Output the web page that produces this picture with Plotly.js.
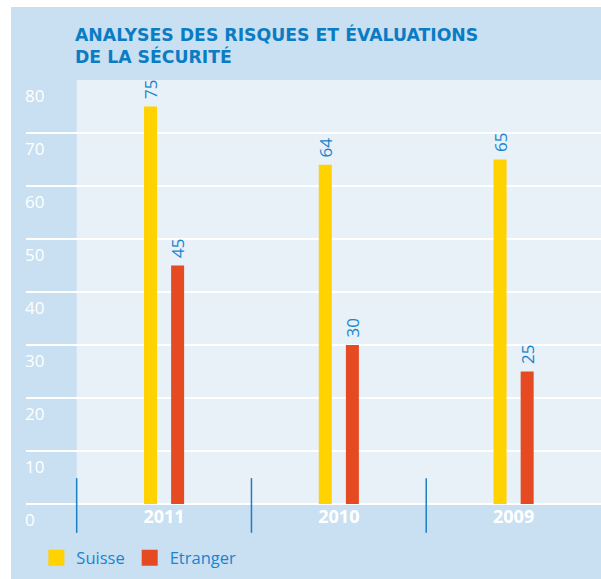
<!DOCTYPE html>
<html>
<head>
<meta charset="utf-8">
<script src="https://cdn.plot.ly/plotly-3.0.1.min.js"></script>
<style>
  body { margin: 0; background: #ffffff; }
  #chart { position: absolute; left: 11px; top: 7px; width: 590px; height: 572px; }
</style>
</head>
<body>
<div id="chart"></div>
<script>
// data
const years = ['2011', '2010', '2009'];
const suisse = [75, 64, 65];
const etranger = [45, 30, 25];
const seriesNames = ['Suisse', 'Etranger'];
const yTicks = [0, 10, 20, 30, 40, 50, 60, 70, 80];

const YELLOW = '#ffd200';
const RED = '#e64a23';
const BLUE_TXT = '#1a85cc';
const BG = '#c9dff2';
const BG_LIGHT = '#e8f0f8';

function barTrace(vals, color) {
    return {
        type: 'bar',
        x: years,
        y: vals,
        marker: { color: color },
        texttemplate: '\u00a0%{y}', // nbsp gives a bit of room above the bar
        textposition: 'outside',
        textangle: -90,
        constraintext: 'none',
        cliponaxis: false,
        textfont: { family: 'Open Sans', size: 17, color: BLUE_TXT },
        showlegend: false,
        hoverinfo: 'skip'
    };
}

// legend only traces (bigger squares than the bar legend symbol)
function legendTrace(name, color) {
    return {
        type: 'scatter',
        mode: 'markers',
        x: [null],
        y: [null],
        name: name,
        marker: { symbol: 'square', size: 16, color: color },
        showlegend: true
    };
}

const data = [
    barTrace(suisse, YELLOW),
    barTrace(etranger, RED),
    legendTrace(seriesNames[0], YELLOW),
    legendTrace(seriesNames[1], RED)
];

// blue separators between the years (yref paper so they are not clipped below 0)
const dividers = [-0.5, 0.5, 1.5].map(function (v) {
    return {
        type: 'line', xref: 'x', yref: 'paper',
        x0: v, x1: v,
        y0: -0.068, y1: 0.061,
        line: { color: '#1a7fc4', width: 1.5 }
    };
});

const layout = {
    width: 590,
    height: 572,
    margin: { l: 15, r: 0, t: 73, b: 75 },
    paper_bgcolor: BG,
    plot_bgcolor: BG,
    font: { family: 'Open Sans', color: '#ffffff' },
    title: {
        text: 'ANALYSES DES RISQUES ET ÉVALUATIONS<br>DE LA SÉCURITÉ',
        xref: 'container', yref: 'container',
        x: 0.1085, xanchor: 'left',
        y: 0.941, yanchor: 'top',
        font: { family: 'DejaVu Sans', size: 17.3, weight: 'bold', color: '#0a7cc4' }
    },
    barmode: 'group',
    bargap: 0.69,
    bargroupgap: 0.52,
    xaxis: {
        type: 'category',
        range: [-0.79, 2.5],
        showgrid: false,
        zeroline: false,
        ticks: '',
        tickfont: { family: 'Open Sans', size: 18, weight: 'bold', color: '#ffffff' },
        fixedrange: true
    },
    yaxis: {
        range: [0, 80],
        tickvals: yTicks,
        ticks: '',
        showgrid: true,
        gridcolor: '#ffffff',
        gridwidth: 2,
        zeroline: true,
        zerolinecolor: '#ffffff',
        zerolinewidth: 2,
        ticklabelposition: 'inside bottom',
        ticklabeloverflow: 'allow',
        ticklabelshift: 4,
        ticklabelstandoff: -4,
        tickfont: { family: 'Open Sans', size: 17, color: '#ffffff' },
        fixedrange: true
    },
    shapes: [{
        type: 'rect', layer: 'below',
        xref: 'x', yref: 'y',
        x0: -0.5, x1: 2.5, y0: 0, y1: 80,
        fillcolor: BG_LIGHT, line: { width: 0 }
    }].concat(dividers),
    legend: {
        orientation: 'h',
        xref: 'container', yref: 'container',
        x: 0.043, xanchor: 'left',
        y: 0.0367, yanchor: 'middle',
        bgcolor: 'rgba(0,0,0,0)',
        font: { family: 'Open Sans', size: 16.5, color: BLUE_TXT }
    }
};

Plotly.newPlot('chart', data, layout, { displayModeBar: false, staticPlot: true });
</script>
</body>
</html>
